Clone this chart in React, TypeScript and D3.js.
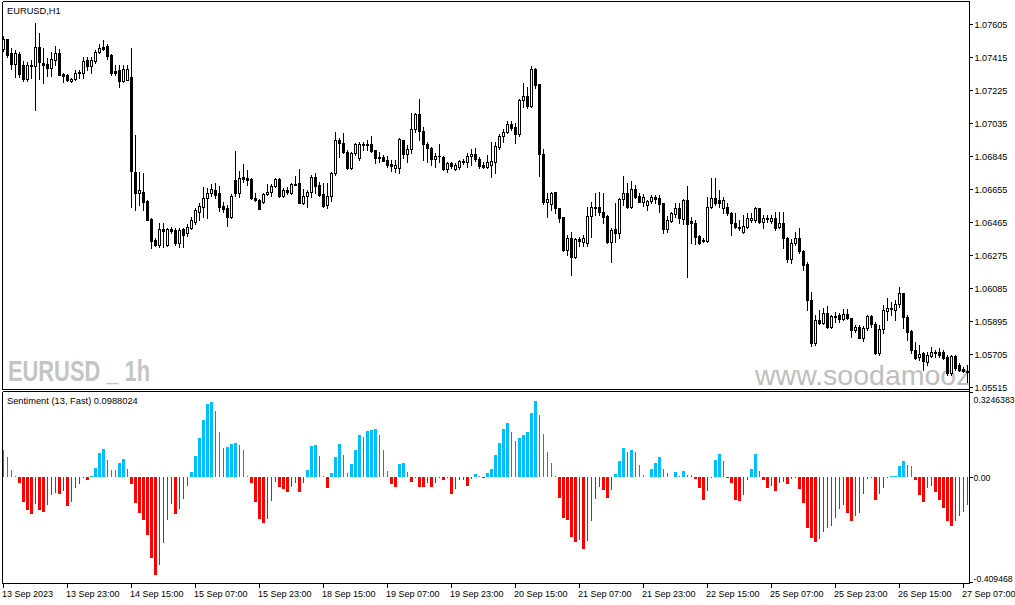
import * as d3 from 'd3'

// EURUSD H1, 13 Sep 2023 07:00 .. 27 Sep 2023 08:00 (242 bars)
const opens = [
  1.07458, 1.07515, 1.07435, 1.07371, 1.07429, 1.07366, 1.07285, 1.07366, 1.07360, 1.07469,
  1.07377, 1.07371, 1.07348, 1.07394, 1.07435, 1.07314, 1.07308, 1.07273, 1.07285, 1.07320,
  1.07320, 1.07394, 1.07360, 1.07389, 1.07440, 1.07469, 1.07475, 1.07423, 1.07331, 1.07337,
  1.07273, 1.07279, 1.07296, 1.06749, 1.06628, 1.06634, 1.06582, 1.06479, 1.06358, 1.06329,
  1.06421, 1.06329, 1.06421, 1.06415, 1.06340, 1.06421, 1.06398, 1.06427, 1.06461, 1.06519,
  1.06548, 1.06600, 1.06628, 1.06646, 1.06628, 1.06553, 1.06542, 1.06490, 1.06703, 1.06628,
  1.06721, 1.06715, 1.06709, 1.06600, 1.06588, 1.06576, 1.06623, 1.06634, 1.06669, 1.06709,
  1.06611, 1.06646, 1.06628, 1.06680, 1.06686, 1.06571, 1.06611, 1.06634, 1.06721, 1.06674,
  1.06623, 1.06559, 1.06611, 1.06744, 1.06934, 1.06916, 1.06864, 1.06772, 1.06859, 1.06830,
  1.06911, 1.06905, 1.06911, 1.06876, 1.06836, 1.06836, 1.06818, 1.06795, 1.06772, 1.06772,
  1.06934, 1.06853, 1.06882, 1.06997, 1.07083, 1.06985, 1.06911, 1.06887, 1.06824, 1.06841,
  1.06836, 1.06767, 1.06801, 1.06767, 1.06778, 1.06813, 1.06807, 1.06841, 1.06853, 1.06824,
  1.06790, 1.06778, 1.06790, 1.06807, 1.06893, 1.06957, 1.06980, 1.07026, 1.07008, 1.06968,
  1.07164, 1.07187, 1.07129, 1.07343, 1.07256, 1.06853, 1.06577, 1.06565, 1.06634, 1.06542,
  1.06490, 1.06300, 1.06369, 1.06260, 1.06364, 1.06346, 1.06340, 1.06496, 1.06542, 1.06548,
  1.06519, 1.06496, 1.06346, 1.06421, 1.06398, 1.06594, 1.06628, 1.06548, 1.06651, 1.06611,
  1.06576, 1.06559, 1.06582, 1.06605, 1.06600, 1.06571, 1.06421, 1.06467, 1.06507, 1.06542,
  1.06479, 1.06588, 1.06467, 1.06456, 1.06381, 1.06352, 1.06352, 1.06548, 1.06600, 1.06588,
  1.06542, 1.06548, 1.06513, 1.06456, 1.06433, 1.06404, 1.06433, 1.06473, 1.06473, 1.06542,
  1.06461, 1.06484, 1.06467, 1.06484, 1.06433, 1.06456, 1.06369, 1.06248, 1.06340, 1.06369,
  1.06294, 1.06219, 1.06012, 1.05764, 1.05897, 1.05880, 1.05937, 1.05856, 1.05914, 1.05926,
  1.05903, 1.05931, 1.05908, 1.05839, 1.05856, 1.05793, 1.05851, 1.05920, 1.05874, 1.05707,
  1.05845, 1.05949, 1.05966, 1.05954, 1.05989, 1.06052, 1.05914, 1.05834, 1.05724, 1.05684,
  1.05707, 1.05655, 1.05690, 1.05713, 1.05713, 1.05713, 1.05684, 1.05592, 1.05690, 1.05638,
  1.05615, 1.05597,
]

const highs = [
  1.07533, 1.07515, 1.07464, 1.07452, 1.07440, 1.07389, 1.07383, 1.07394, 1.07608, 1.07550,
  1.07464, 1.07406, 1.07440, 1.07475, 1.07458, 1.07320, 1.07314, 1.07291, 1.07337, 1.07337,
  1.07412, 1.07412, 1.07412, 1.07452, 1.07487, 1.07510, 1.07487, 1.07429, 1.07366, 1.07366,
  1.07366, 1.07366, 1.07464, 1.06962, 1.06749, 1.06744, 1.06588, 1.06484, 1.06369, 1.06456,
  1.06456, 1.06427, 1.06433, 1.06427, 1.06427, 1.06427, 1.06450, 1.06490, 1.06542, 1.06571,
  1.06663, 1.06657, 1.06680, 1.06686, 1.06669, 1.06576, 1.06559, 1.06623, 1.06870, 1.06755,
  1.06795, 1.06761, 1.06715, 1.06628, 1.06594, 1.06628, 1.06680, 1.06680, 1.06715, 1.06715,
  1.06657, 1.06663, 1.06686, 1.06726, 1.06767, 1.06651, 1.06646, 1.06732, 1.06744, 1.06692,
  1.06686, 1.06686, 1.06749, 1.06980, 1.06945, 1.06974, 1.06876, 1.06864, 1.06916, 1.06922,
  1.06922, 1.06934, 1.06957, 1.06876, 1.06864, 1.06847, 1.06841, 1.06818, 1.06818, 1.06945,
  1.06934, 1.06905, 1.07089, 1.07089, 1.07170, 1.07008, 1.06922, 1.06893, 1.06859, 1.06911,
  1.06841, 1.06807, 1.06807, 1.06801, 1.06818, 1.06824, 1.06859, 1.06882, 1.06887, 1.06836,
  1.06807, 1.06847, 1.06922, 1.06922, 1.06968, 1.06997, 1.07043, 1.07043, 1.07031, 1.07170,
  1.07262, 1.07239, 1.07360, 1.07348, 1.07256, 1.06882, 1.06628, 1.06634, 1.06634, 1.06542,
  1.06490, 1.06386, 1.06404, 1.06369, 1.06375, 1.06386, 1.06548, 1.06576, 1.06628, 1.06634,
  1.06628, 1.06502, 1.06427, 1.06571, 1.06600, 1.06726, 1.06686, 1.06697, 1.06674, 1.06628,
  1.06623, 1.06588, 1.06617, 1.06617, 1.06617, 1.06571, 1.06496, 1.06519, 1.06571, 1.06571,
  1.06594, 1.06669, 1.06490, 1.06473, 1.06386, 1.06369, 1.06605, 1.06715, 1.06715, 1.06646,
  1.06605, 1.06571, 1.06519, 1.06513, 1.06473, 1.06502, 1.06513, 1.06513, 1.06548, 1.06542,
  1.06502, 1.06502, 1.06502, 1.06519, 1.06519, 1.06519, 1.06375, 1.06364, 1.06404, 1.06427,
  1.06300, 1.06231, 1.06058, 1.05926, 1.05954, 1.05966, 1.05977, 1.05926, 1.05943, 1.05937,
  1.05960, 1.05960, 1.05908, 1.05868, 1.05868, 1.05862, 1.05926, 1.05926, 1.05885, 1.05868,
  1.05983, 1.06023, 1.06000, 1.06017, 1.06087, 1.06052, 1.05926, 1.05839, 1.05770, 1.05753,
  1.05713, 1.05713, 1.05742, 1.05724, 1.05736, 1.05724, 1.05695, 1.05695, 1.05695, 1.05649,
  1.05626, 1.05638,
]

const lows = [
  1.07446, 1.07412, 1.07343, 1.07296, 1.07296, 1.07273, 1.07273, 1.07291, 1.07106, 1.07285,
  1.07262, 1.07302, 1.07302, 1.07366, 1.07308, 1.07268, 1.07273, 1.07268, 1.07279, 1.07291,
  1.07291, 1.07337, 1.07320, 1.07377, 1.07435, 1.07452, 1.07400, 1.07308, 1.07308, 1.07239,
  1.07268, 1.07279, 1.06548, 1.06530, 1.06559, 1.06530, 1.06473, 1.06312, 1.06323, 1.06317,
  1.06317, 1.06323, 1.06398, 1.06329, 1.06317, 1.06317, 1.06381, 1.06421, 1.06450, 1.06473,
  1.06490, 1.06484, 1.06611, 1.06600, 1.06525, 1.06519, 1.06438, 1.06484, 1.06611, 1.06605,
  1.06692, 1.06674, 1.06594, 1.06582, 1.06536, 1.06571, 1.06617, 1.06611, 1.06663, 1.06605,
  1.06605, 1.06623, 1.06623, 1.06674, 1.06571, 1.06565, 1.06548, 1.06605, 1.06628, 1.06611,
  1.06548, 1.06542, 1.06582, 1.06732, 1.06836, 1.06859, 1.06767, 1.06767, 1.06847, 1.06818,
  1.06876, 1.06876, 1.06864, 1.06801, 1.06807, 1.06813, 1.06778, 1.06755, 1.06749, 1.06744,
  1.06830, 1.06807, 1.06859, 1.06980, 1.06934, 1.06818, 1.06807, 1.06790, 1.06778, 1.06807,
  1.06761, 1.06749, 1.06772, 1.06761, 1.06767, 1.06795, 1.06778, 1.06790, 1.06813, 1.06772,
  1.06772, 1.06772, 1.06721, 1.06744, 1.06882, 1.06922, 1.06974, 1.06991, 1.06916, 1.06957,
  1.07124, 1.07118, 1.07124, 1.07233, 1.06726, 1.06565, 1.06490, 1.06530, 1.06513, 1.06461,
  1.06294, 1.06271, 1.06156, 1.06254, 1.06323, 1.06323, 1.06323, 1.06375, 1.06502, 1.06502,
  1.06456, 1.06340, 1.06231, 1.06346, 1.06369, 1.06559, 1.06542, 1.06542, 1.06600, 1.06576,
  1.06553, 1.06530, 1.06571, 1.06571, 1.06519, 1.06398, 1.06404, 1.06461, 1.06490, 1.06456,
  1.06450, 1.06145, 1.06340, 1.06335, 1.06335, 1.06346, 1.06346, 1.06542, 1.06559, 1.06548,
  1.06513, 1.06502, 1.06386, 1.06427, 1.06415, 1.06398, 1.06427, 1.06461, 1.06461, 1.06456,
  1.06427, 1.06461, 1.06456, 1.06415, 1.06427, 1.06312, 1.06231, 1.06225, 1.06329, 1.06283,
  1.06185, 1.05954, 1.05747, 1.05753, 1.05874, 1.05874, 1.05851, 1.05851, 1.05885, 1.05885,
  1.05897, 1.05903, 1.05799, 1.05828, 1.05793, 1.05776, 1.05839, 1.05856, 1.05701, 1.05695,
  1.05822, 1.05897, 1.05926, 1.05897, 1.05972, 1.05851, 1.05782, 1.05707, 1.05672, 1.05666,
  1.05609, 1.05638, 1.05684, 1.05684, 1.05684, 1.05672, 1.05580, 1.05580, 1.05609, 1.05603,
  1.05597, 1.05540,
]

const closes = [
  1.07515, 1.07423, 1.07371, 1.07435, 1.07314, 1.07285, 1.07366, 1.07360, 1.07469, 1.07383,
  1.07366, 1.07348, 1.07400, 1.07435, 1.07308, 1.07302, 1.07279, 1.07285, 1.07320, 1.07325,
  1.07389, 1.07360, 1.07394, 1.07440, 1.07464, 1.07458, 1.07417, 1.07320, 1.07320, 1.07273,
  1.07343, 1.07343, 1.06755, 1.06628, 1.06646, 1.06576, 1.06473, 1.06352, 1.06329, 1.06421,
  1.06410, 1.06421, 1.06410, 1.06340, 1.06415, 1.06387, 1.06433, 1.06473, 1.06530, 1.06553,
  1.06600, 1.06628, 1.06651, 1.06617, 1.06548, 1.06536, 1.06490, 1.06611, 1.06628, 1.06715,
  1.06709, 1.06703, 1.06600, 1.06588, 1.06536, 1.06623, 1.06634, 1.06669, 1.06709, 1.06611,
  1.06646, 1.06634, 1.06680, 1.06674, 1.06571, 1.06611, 1.06634, 1.06721, 1.06669, 1.06617,
  1.06553, 1.06611, 1.06744, 1.06934, 1.06916, 1.06864, 1.06772, 1.06859, 1.06911, 1.06911,
  1.06905, 1.06911, 1.06870, 1.06830, 1.06830, 1.06813, 1.06790, 1.06784, 1.06790, 1.06940,
  1.06853, 1.06882, 1.06997, 1.07083, 1.06985, 1.06911, 1.06887, 1.06824, 1.06841, 1.06841,
  1.06767, 1.06801, 1.06784, 1.06790, 1.06813, 1.06807, 1.06841, 1.06853, 1.06824, 1.06784,
  1.06778, 1.06807, 1.06813, 1.06899, 1.06957, 1.06980, 1.07026, 1.07003, 1.06968, 1.07164,
  1.07187, 1.07129, 1.07343, 1.07250, 1.06853, 1.06577, 1.06594, 1.06628, 1.06542, 1.06484,
  1.06300, 1.06369, 1.06260, 1.06364, 1.06352, 1.06369, 1.06496, 1.06548, 1.06548, 1.06519,
  1.06490, 1.06346, 1.06415, 1.06398, 1.06594, 1.06628, 1.06548, 1.06651, 1.06605, 1.06576,
  1.06605, 1.06582, 1.06605, 1.06594, 1.06565, 1.06421, 1.06473, 1.06513, 1.06542, 1.06484,
  1.06588, 1.06450, 1.06456, 1.06375, 1.06340, 1.06358, 1.06548, 1.06600, 1.06571, 1.06571,
  1.06588, 1.06513, 1.06456, 1.06433, 1.06427, 1.06438, 1.06484, 1.06484, 1.06542, 1.06461,
  1.06484, 1.06479, 1.06484, 1.06427, 1.06456, 1.06369, 1.06248, 1.06340, 1.06369, 1.06294,
  1.06214, 1.06012, 1.05764, 1.05897, 1.05880, 1.05937, 1.05856, 1.05920, 1.05920, 1.05903,
  1.05931, 1.05908, 1.05839, 1.05856, 1.05793, 1.05851, 1.05920, 1.05874, 1.05707, 1.05845,
  1.05954, 1.05966, 1.05960, 1.05989, 1.06052, 1.05914, 1.05828, 1.05724, 1.05678, 1.05701,
  1.05661, 1.05695, 1.05713, 1.05707, 1.05695, 1.05678, 1.05592, 1.05690, 1.05620, 1.05609,
  1.05603, 1.05603,
]

// Sentiment (13, Fast) histogram
const sentiment = [
  0.103, 0.075, 0.026, 0.003, -0.023, -0.094, -0.127, -0.142, -0.104, -0.125,
  -0.132, -0.108, -0.070, -0.060, -0.067, -0.054, -0.112, -0.097, -0.044, -0.029,
  -0.004, -0.014, 0.004, 0.034, 0.091, 0.106, 0.062, 0.026, 0.026, 0.053,
  0.068, 0.031, -0.029, -0.101, -0.136, -0.165, -0.221, -0.306, -0.372, -0.333,
  -0.252, -0.165, -0.104, -0.142, -0.123, -0.083, -0.034, 0.019, 0.079, 0.147,
  0.215, 0.275, 0.283, 0.248, 0.170, 0.109, 0.113, 0.125, 0.127, 0.119,
  0.102, 0.002, -0.023, -0.094, -0.158, -0.174, -0.158, -0.092, -0.019, -0.038,
  -0.048, -0.059, -0.038, -0.023, -0.059, -0.023, 0.026, 0.118, 0.121, 0.079,
  0.003, -0.044, 0.015, 0.075, 0.125, 0.083, 0.015, 0.049, 0.102, 0.158,
  0.151, 0.174, 0.176, 0.181, 0.158, 0.102, 0.023, -0.029, -0.040, 0.049,
  0.053, 0.019, -0.018, -0.006, -0.038, -0.040, -0.025, -0.038, -0.025, -0.003,
  -0.014, -0.006, -0.067, -0.048, -0.014, -0.014, -0.033, -0.008, 0.011, 0.002,
  -0.006, 0.015, 0.030, 0.083, 0.128, 0.181, 0.204, 0.170, 0.136, 0.147,
  0.158, 0.170, 0.242, 0.287, 0.234, 0.162, 0.094, 0.053, 0.004, -0.079,
  -0.155, -0.162, -0.226, -0.245, -0.238, -0.275, -0.242, -0.166, -0.083, -0.038,
  -0.049, -0.079, -0.049, 0.011, 0.060, 0.109, 0.094, 0.102, 0.094, 0.045,
  0.008, 0, 0.030, 0.053, 0.075, 0.030, 0.015, 0, 0.019, 0.003,
  0.023, 0.008, 0.008, -0.010, -0.044, -0.089, -0.052, -0.001, 0.064, 0.087,
  0.060, -0.006, -0.025, -0.086, -0.093, -0.070, -0.014, 0.030, 0.087, 0.023,
  -0.014, -0.044, -0.033, -0.052, -0.025, -0.018, -0.029, -0.010, -0.006, -0.048,
  -0.101, -0.195, -0.233, -0.248, -0.236, -0.210, -0.195, -0.187, -0.157, -0.123,
  -0.108, -0.138, -0.169, -0.147, -0.138, -0.067, -0.010, -0.001, -0.089, -0.067,
  -0.044, -0.006, 0.002, 0.004, 0.042, 0.060, 0.045, 0.042, -0.014, -0.070,
  -0.097, -0.044, -0.033, -0.059, -0.086, -0.119, -0.169, -0.187, -0.169, -0.150,
  -0.135, -0.108,
]

const priceTicks = [1.07605, 1.07415, 1.07225, 1.07035, 1.06845, 1.06655, 1.06465, 1.06275, 1.06085, 1.05895, 1.05705, 1.05515]
const sentimentTicks = [0.3246383, 0, -0.409468]
const sentimentTickLabels = ['0.3246383', '0.00', '-0.409468']
const dateLabels = [
  '13 Sep 2023', '13 Sep 23:00', '14 Sep 15:00', '15 Sep 07:00', '15 Sep 23:00', '18 Sep 15:00',
  '19 Sep 07:00', '19 Sep 23:00', '20 Sep 15:00', '21 Sep 07:00', '21 Sep 23:00', '22 Sep 15:00',
  '25 Sep 07:00', '25 Sep 23:00', '26 Sep 15:00', '27 Sep 07:00',
]
const barsPerLabel = 16

const W = 1015
const H = 605
const FONT = "'Liberation Sans', Arial, sans-serif"

export default function App() {
  const n = closes.length
  const x = d3.scaleLinear().domain([0, n - 1]).range([3, 3 + 4 * (n - 1)])
  const yMain = d3.scaleLinear().domain([1.05515, 1.07605]).range([386.7, 23.7])
  const ySub = d3.scaleLinear().domain([-0.409468, 0.3246383]).range([585, 391])
  const zeroY = Math.round(ySub(0))

  return (
    <svg width={W} height={H} style={{ position: 'fixed', left: 0, top: 0, background: '#fff' }}
      fontFamily={FONT}>
      <defs>
        <clipPath id="mainClip"><rect x={3} y={2} width={966} height={387} /></clipPath>
        <clipPath id="subClip"><rect x={3} y={392} width={966} height={191} /></clipPath>
      </defs>
      <rect width={W} height={H} fill="#fff" />

      {/* watermarks */}
      <g clipPath="url(#mainClip)">
        <text x={8} y={380.5} fontSize={30} fontWeight="bold" fill="#c4c4c4"
          textLength={142} lengthAdjust="spacingAndGlyphs">EURUSD _ 1h</text>
        <text x={755} y={384.5} fontSize={28.5} fill="#bebebe">www.soodamooz</text>
      </g>

      {/* candles */}
      <g clipPath="url(#mainClip)" shapeRendering="crispEdges">
        {closes.map((c, i) => {
          const cx = Math.round(x(i))
          const o = opens[i]
          const top = Math.round(yMain(Math.max(o, c)))
          const bot = Math.round(yMain(Math.min(o, c)))
          const yh = Math.round(yMain(highs[i]))
          const yl = Math.round(yMain(lows[i]))
          const bull = c > o && bot - top >= 2
          return (
            <g key={i}>
              <rect x={cx} y={yh} width={1} height={Math.max(1, yl - yh + 1)} fill="#000" />
              {bull ? (
                <rect x={cx - 0.5} y={top + 0.5} width={2} height={bot - top}
                  fill="#fff" stroke="#000" strokeWidth={1} />
              ) : (
                <rect x={cx - 1} y={top} width={3} height={Math.max(1, bot - top + 1)} fill="#000" />
              )}
            </g>
          )
        })}
      </g>

      {/* sentiment histogram */}
      <g clipPath="url(#subClip)" shapeRendering="crispEdges">
        {sentiment.map((v, i) => {
          if (v === 0) return null
          const prev = i > 0 ? sentiment[i - 1] : v
          const thick = i > 0 && ((v > 0 && v > prev) || (v < 0 && v < prev))
          const color = v > 0 ? (thick ? '#00bfff' : '#4169e1') : (thick ? '#ff0000' : '#b22222')
          const cx = Math.round(x(i))
          const yv = Math.round(ySub(v))
          const y0 = v > 0 ? yv : zeroY
          const h = Math.max(1, Math.abs(yv - zeroY))
          return (
            <rect key={i} x={thick ? cx - 1 : cx} y={y0} width={thick ? 3 : 1} height={h} fill={color} />
          )
        })}
      </g>

      {/* frames */}
      <g fill="none" stroke="#000" strokeWidth={1} shapeRendering="crispEdges">
        <line x1={2.5} y1={1.5} x2={969.5} y2={1.5} />
        <line x1={2.5} y1={1.5} x2={2.5} y2={389.5} />
        <line x1={2.5} y1={389.5} x2={969.5} y2={389.5} />
        <line x1={2.5} y1={391.5} x2={969.5} y2={391.5} />
        <line x1={2.5} y1={391.5} x2={2.5} y2={583.5} />
        <line x1={2.5} y1={583.5} x2={969.5} y2={583.5} />
        <line x1={969.5} y1={1.5} x2={969.5} y2={583.5} />
      </g>

      {/* price axis */}
      <g fontSize={9.1} fill="#000">
        {priceTicks.map(p => {
          const ty = Math.round(yMain(p))
          return (
            <g key={p}>
              <line x1={969} x2={973} y1={ty + 0.5} y2={ty + 0.5} stroke="#000" shapeRendering="crispEdges" />
              <text x={974.5} y={ty + 3.5}>{p.toFixed(5)}</text>
            </g>
          )
        })}
      </g>

      {/* sentiment axis */}
      <g fontSize={8.7} fill="#000">
        {sentimentTicks.map((v, k) => {
          const ty = Math.round(ySub(v))
          const ly = k === 0 ? 402.5 : k === 2 ? 581.5 : ty + 3.5
          const tickY = k === 0 ? 392.5 : k === 2 ? 582.5 : ty + 0.5
          return (
            <g key={k}>
              <line x1={969} x2={973} y1={tickY} y2={tickY} stroke="#000" shapeRendering="crispEdges" />
              <text x={973.5} y={ly}>{sentimentTickLabels[k]}</text>
            </g>
          )
        })}
      </g>

      {/* time axis */}
      <g fontSize={9} fill="#000">
        {dateLabels.map((label, k) => {
          const tx = Math.round(x(k * barsPerLabel))
          return (
            <g key={label}>
              <line x1={tx + 0.5} x2={tx + 0.5} y1={583} y2={588} stroke="#000" shapeRendering="crispEdges" />
              <text x={tx - 1} y={597}>{label}</text>
            </g>
          )
        })}
      </g>

      {/* titles */}
      <text x={7} y={14} fontSize={9.3} fill="#000">EURUSD,H1</text>
      <text x={7} y={403.5} fontSize={9.3} fill="#000">Sentiment (13, Fast) 0.0988024</text>
    </svg>
  )
}
